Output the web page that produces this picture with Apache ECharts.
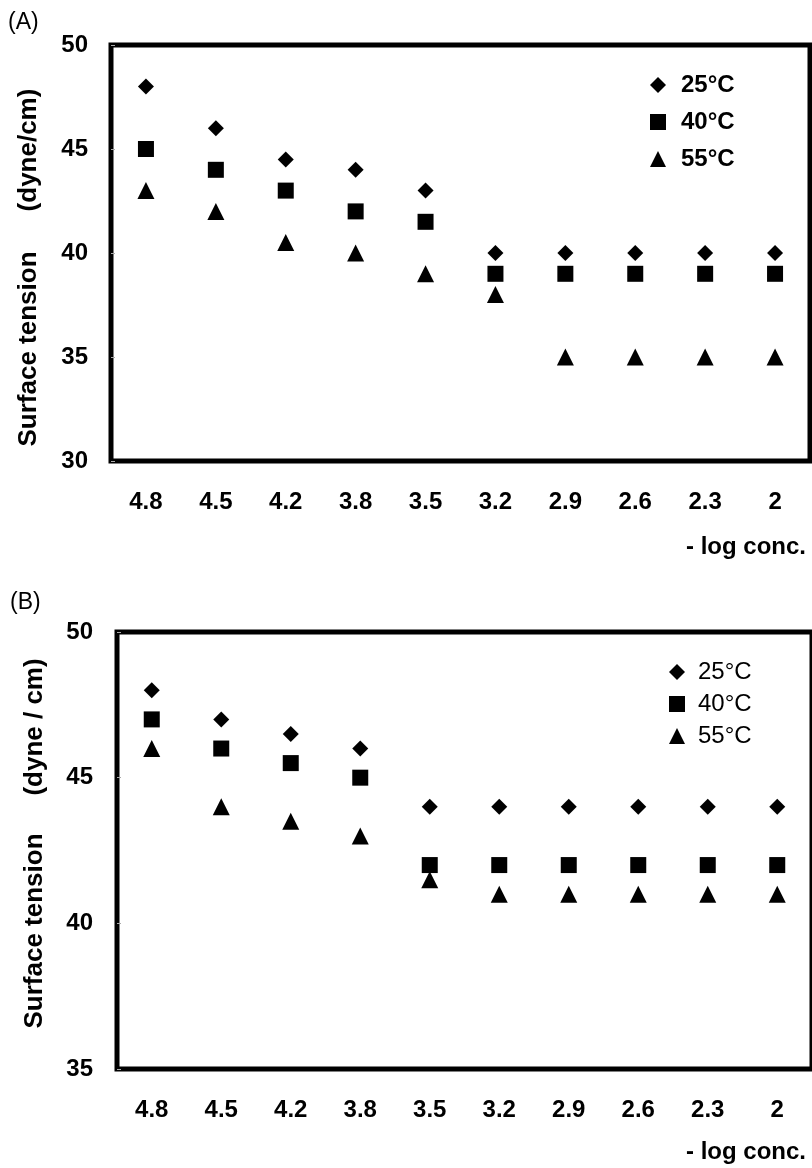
<!DOCTYPE html>
<html>
<head>
<meta charset="utf-8">
<script src="https://cdn.jsdelivr.net/npm/echarts@6/dist/echarts.min.js"></script>
<style>
  html, body { margin: 0; padding: 0; background: #fff; }
  #chart { width: 812px; height: 1168px; }
</style>
</head>
<body>
<div id="chart"></div>
<script>
// -log concentration categories (same for both panels)
const categories = ['4.8', '4.5', '4.2', '3.8', '3.5', '3.2', '2.9', '2.6', '2.3', '2'];
const seriesNames = ['25°C', '40°C', '55°C'];
const symbols = ['diamond', 'rect', 'triangle'];
const symbolSizes = [16, 16, 17];

// Panel (A) surface tension, dyne/cm
const a25 = [48, 46, 44.5, 44, 43, 40, 40, 40, 40, 40];
const a40 = [45, 44, 43, 42, 41.5, 39, 39, 39, 39, 39];
const a55 = [43, 42, 40.5, 40, 39, 38, 35, 35, 35, 35];

// Panel (B) surface tension, dyne/cm
const b25 = [48, 47, 46.5, 46, 44, 44, 44, 44, 44, 44];
const b40 = [47, 46, 45.5, 45, 42, 42, 42, 42, 42, 42];
const b55 = [46, 44, 43.5, 43, 41.5, 41, 41, 41, 41, 41];

const FONT = 'Liberation Sans, Arial, sans-serif';

const chart = echarts.init(document.getElementById('chart'));

function makeSeries(values, idx, gridIdx) {
  return {
    type: 'scatter',
    name: seriesNames[idx],
    xAxisIndex: gridIdx,
    yAxisIndex: gridIdx,
    symbol: symbols[idx],
    symbolSize: symbolSizes[idx],
    itemStyle: { color: '#000', opacity: 1 },
    data: values,
    silent: true
  };
}

function xAxisFor(gridIdx) {
  return {
    type: 'category',
    gridIndex: gridIdx,
    data: categories,
    boundaryGap: true,
    axisLine: { show: false },
    axisTick: { show: false },
    axisLabel: {
      color: '#000', fontSize: 24, fontWeight: 'bold', fontFamily: FONT, margin: 29
    },
    splitLine: { show: false }
  };
}

function yAxisFor(gridIdx, min, margin) {
  return {
    type: 'value',
    gridIndex: gridIdx,
    min: min, max: 50, interval: 5,
    axisLine: { show: false },
    axisTick: { show: true, inside: true, length: 4, lineStyle: { color: '#aaa', width: 1 } },
    axisLabel: {
      color: '#000', fontSize: 24, fontWeight: 'bold', fontFamily: FONT, margin: margin
    },
    splitLine: { show: false }
  };
}

// rotated y-axis title pieces
function vText(text, x, y) {
  return {
    type: 'text', x: x, y: y, rotation: Math.PI / 2,
    style: { text: text, fill: '#000', font: 'bold 26px ' + FONT, align: 'center', verticalAlign: 'middle' }
  };
}

const option = {
  backgroundColor: '#fff',
  animation: false,
  grid: [
    { left: 111, top: 45, width: 699, height: 416, show: true, borderColor: '#000', borderWidth: 5 },
    { left: 117, top: 632, width: 698, height: 437, show: true, borderColor: '#000', borderWidth: 5 }
  ],
  xAxis: [xAxisFor(0), xAxisFor(1)],
  yAxis: [yAxisFor(0, 30, 23), yAxisFor(1, 35, 24)],
  legend: [
    {
      orient: 'vertical', left: 645, top: 62,
      itemWidth: 16, itemHeight: 16, itemGap: 1,
      data: seriesNames,
      selectedMode: false,
      textStyle: { color: '#000', fontSize: 24, fontWeight: 'bold', fontFamily: FONT, padding: [12, 0, 0, 10], lineHeight: 24 }
    },
    {
      orient: 'vertical', left: 664, top: 651,
      itemWidth: 16, itemHeight: 16, itemGap: 0,
      data: seriesNames,
      selectedMode: false,
      textStyle: { color: '#000', fontSize: 24, fontWeight: 'normal', fontFamily: FONT, padding: [8, 0, 0, 8], lineHeight: 24 }
    }
  ],
  series: [
    makeSeries(a25, 0, 0), makeSeries(a40, 1, 0), makeSeries(a55, 2, 0),
    makeSeries(b25, 0, 1), makeSeries(b40, 1, 1), makeSeries(b55, 2, 1)
  ],
  graphic: [
    { type: 'text', left: 8, top: 11, style: { text: '(A)', fill: '#000', font: '23px ' + FONT } },
    { type: 'text', left: 10, top: 591, style: { text: '(B)', fill: '#000', font: '23px ' + FONT } },
    vText('Surface tension', 29, 349),
    vText('(dyne/cm)', 29, 150),
    vText('Surface tension', 35, 931),
    vText('(dyne / cm)', 35, 727),
    { type: 'text', right: 6, top: 535, style: { text: '- log conc.', fill: '#000', font: 'bold 24px ' + FONT } },
    { type: 'text', right: 6, top: 1140, style: { text: '- log conc.', fill: '#000', font: 'bold 24px ' + FONT } }
  ]
};

chart.setOption(option);
</script>
</body>
</html>
